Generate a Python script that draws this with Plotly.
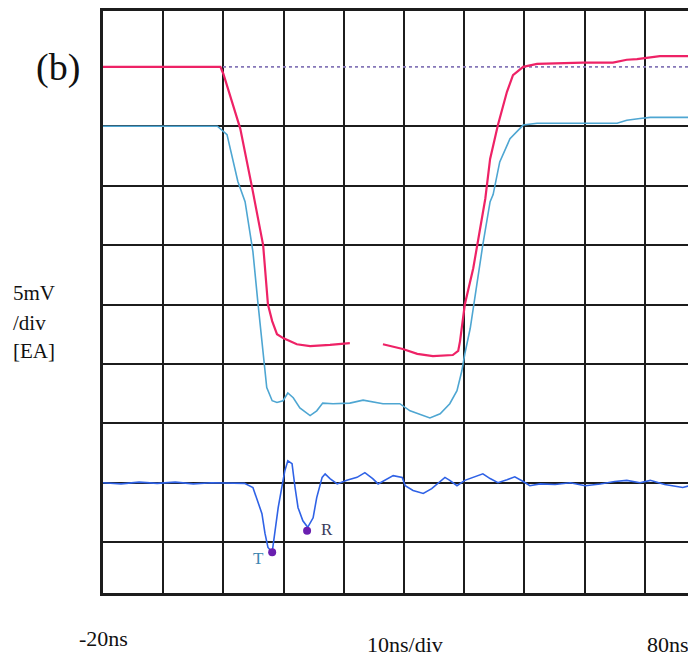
import plotly.graph_objects as go

# time in ns, amplitude in divisions (5 mV/div)
red_t = [-20, -0.5, 0.0, 2.8, 4.8, 6.6, 7.4, 8.1, 8.9, 10.0, 12.2, 14.4, 17.7, 21.0, None,
         26.5, 29.8, 32.2, 34.8, 38.1, 39.0, 39.3, 40.1, 41.5, 42.6, 43.5, 44.3, 45.6, 47.1,
         48.1, 49.8, 52.1, 59.7, 64.7, 67.0, 68.7, 72.5, 78.5]
red_v = [8.0, 8.0, 7.88, 6.96, 5.95, 5.0, 4.0, 3.72, 3.5, 3.43, 3.33, 3.30, 3.32, 3.35, None,
         3.33, 3.25, 3.17, 3.13, 3.15, 3.22, 3.38, 4.0, 4.61, 5.28, 5.78, 6.45, 7.02, 7.58,
         7.86, 8.0, 8.05, 8.07, 8.07, 8.12, 8.13, 8.18, 8.18]

cyan_t = [-20, -1.0, 0.6, 2.4, 3.6, 4.9, 5.7, 6.6, 7.2, 8.1, 8.9, 9.9, 10.7, 11.6, 12.7,
          14.4, 15.5, 16.5, 18.2, 21.0, 23.2, 26.5, 29.3, 31.0, 34.3, 36.0, 37.6, 38.8,
          39.6, 40.1, 41.0, 42.1, 43.1, 44.3, 44.8, 45.9, 47.6, 49.8, 52.1, 65.4, 67.0,
          69.2, 70.9, 78.5]
cyan_v = [7.0, 7.0, 6.86, 6.07, 5.73, 4.89, 4.06, 3.22, 2.6, 2.38, 2.35, 2.38, 2.51, 2.43,
          2.26, 2.13, 2.21, 2.34, 2.33, 2.34, 2.39, 2.33, 2.33, 2.21, 2.09, 2.16, 2.33, 2.55,
          2.88, 3.17, 3.6, 4.34, 5.01, 5.73, 5.85, 6.40, 6.79, 7.02, 7.05, 7.05, 7.10,
          7.13, 7.15, 7.15]

blue_t = [-20, -17, -14, -11, -8, -5, -2, 2, 3.5, 4.9, 5.7, 6.4, 6.9, 7.4, 8.1, 8.6, 9.1,
          9.7, 10.2, 10.7, 11.4, 11.9, 12.4, 13.2, 14.0, 14.9, 15.5, 16.4, 16.9, 17.7,
          18.9, 20.5, 22.2, 23.5, 24.8, 25.7, 27.2, 28.2, 29.7, 30.2, 31.5, 33.2, 34.6,
          35.6, 36.8, 37.6, 38.8, 40.1, 41.5, 43.1, 44.3, 45.6, 47.1, 48.4, 49.8, 50.9,
          52.6, 55.1, 57.6, 60.1, 62.6, 65.0, 67.0, 69.2, 70.9, 73.3, 76.3, 78.5]
blue_v = [1.0, 0.98, 1.01, 0.99, 1.01, 0.98, 1.0, 1.0, 0.99, 0.92, 0.70, 0.48, 0.15, -0.09,
          -0.17, 0.20, 0.58, 0.92, 1.20, 1.37, 1.32, 0.92, 0.58, 0.36, 0.25, 0.41, 0.75,
          1.09, 1.15, 1.07, 0.98, 1.04, 1.09, 1.17, 1.07, 0.98, 1.07, 1.12, 1.09, 0.95,
          0.87, 0.82, 0.90, 0.98, 1.09, 1.04, 0.95, 1.04, 1.09, 1.15, 1.07, 1.00, 1.05,
          1.10, 1.02, 0.95, 0.98, 0.97, 1.0, 0.95, 0.98, 1.02, 1.04, 1.0, 1.04, 0.97,
          0.92, 0.98]

marker_names = ["T", "R"]
marker_t = [8.1, 13.9]
marker_v = [-0.17, 0.19]

ref_t = [-20, 78.5]
ref_v = [8.0, 8.0]

x_ticks = [-10, 0, 10, 20, 30, 40, 50, 60, 70]
y_ticks = [0, 1, 2, 3, 4, 5, 6, 7]

fig = go.Figure()
fig.add_trace(go.Scatter(x=ref_t, y=ref_v, mode="lines",
                         line=dict(color="#8577b8", width=1.8, dash="dot"), hoverinfo="skip"))
fig.add_trace(go.Scatter(x=cyan_t, y=cyan_v, mode="lines",
                         line=dict(color="#4ea6d2", width=1.6), connectgaps=False))
fig.add_trace(go.Scatter(x=red_t, y=red_v, mode="lines",
                         line=dict(color="#ee2266", width=2.2), connectgaps=False))
fig.add_trace(go.Scatter(x=blue_t, y=blue_v, mode="lines",
                         line=dict(color="#2f62e6", width=1.6)))
fig.add_trace(go.Scatter(x=marker_t, y=marker_v, mode="markers",
                         marker=dict(color="#6a1fb0", size=8)))

serif = "Liberation Serif"
fig.add_annotation(x=marker_t[0], y=marker_v[0], text=marker_names[0], showarrow=False,
                   xanchor="right", yanchor="middle", xshift=-6, yshift=-6,
                   font=dict(family=serif, size=17, color="#3d86b0"))
fig.add_annotation(x=marker_t[1], y=marker_v[1], text=marker_names[1], showarrow=False,
                   xanchor="left", yanchor="middle", xshift=12, yshift=1,
                   font=dict(family=serif, size=17, color="#3a3a5a"))

fig.add_annotation(xref="paper", yref="paper", x=-0.0759, y=0.9023, text="(b)",
                   xanchor="center", yanchor="middle",
                   showarrow=False, font=dict(family=serif, size=38, color="#111"))
for txt, yy in [("5mV", 0.515), ("/div", 0.464), ("[EA]", 0.416)]:
    fig.add_annotation(xref="paper", yref="paper", x=-0.155, y=yy, text=txt,
                       xanchor="left", yanchor="middle", showarrow=False,
                       font=dict(family=serif, size=21, color="#111"))
fig.add_annotation(xref="paper", yref="paper", x=0.0, y=-0.0776, text="-20ns",
                   xanchor="center", yanchor="middle",
                   showarrow=False, font=dict(family=serif, size=22, color="#111"))
fig.add_annotation(xref="paper", yref="paper", x=0.509, y=-0.088, text="10ns/div",
                   xanchor="center", yanchor="middle",
                   showarrow=False, font=dict(family=serif, size=22, color="#111"))
fig.add_annotation(xref="paper", yref="paper", x=0.953, y=-0.088, text="80ns",
                   xanchor="center", yanchor="middle",
                   showarrow=False, font=dict(family=serif, size=22, color="#111"))

fig.update_layout(
    width=688, height=651,
    margin=dict(l=95, r=0, t=1, b=66),
    paper_bgcolor="white", plot_bgcolor="white",
    showlegend=False,
    xaxis=dict(range=[-20, 78.5], tickvals=x_ticks, showticklabels=False,
               showgrid=True, gridcolor="#1c1c1c", gridwidth=2, zeroline=False,
               showline=True, linecolor="#1c1c1c", linewidth=2.5, mirror=True,
               ticks=""),
    yaxis=dict(range=[-0.856, 8.94], tickvals=y_ticks, showticklabels=False,
               showgrid=True, gridcolor="#1c1c1c", gridwidth=2, zeroline=False,
               showline=True, linecolor="#1c1c1c", linewidth=2.5, ticks=""),
)

fig.write_html("out.html")
